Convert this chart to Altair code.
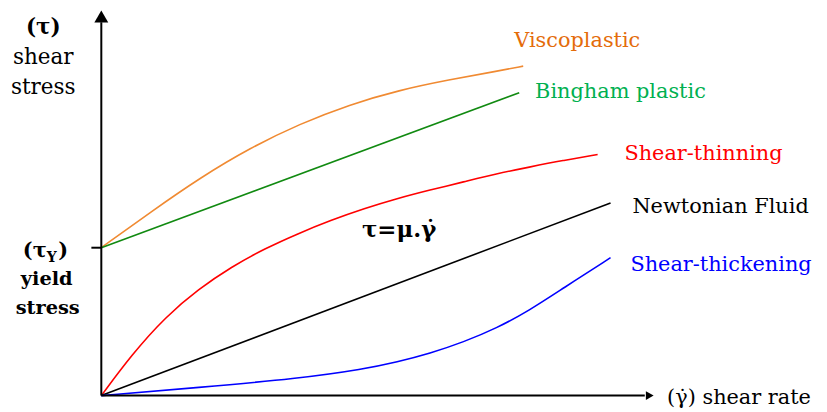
import altair as alt
import pandas as pd

# ---- data (shear rate x, shear stress y) ----
series = ["Viscoplastic", "Bingham plastic", "Shear-thinning", "Newtonian Fluid", "Shear-thickening"]
line_colors = ["#F08A32", "#118A11", "#FF0000", "#000000", "#0000FF"]
text_colors = ["#E46C0A", "#00B050", "#FF0000", "#000000", "#0000FF"]

visco_x = [0, 1, 2, 3, 4, 5, 6, 7, 8, 8.5]
visco_y = [4.0, 4.97, 5.9, 6.7, 7.35, 7.87, 8.26, 8.54, 8.78, 8.91]
bingham_x = [0, 8.42]
bingham_y = [4.0, 8.19]
thin_x = [0, 0.62, 1.3, 1.96, 2.62, 3.3, 3.96, 4.62, 5.3, 5.96, 6.62, 7.3, 7.96, 8.62, 9.3, 10.0]
thin_y = [0, 1.12, 2.14, 2.88, 3.48, 3.98, 4.38, 4.74, 5.06, 5.33, 5.56, 5.78, 6.0, 6.18, 6.36, 6.52]
newton_x = [0, 10.26]
newton_y = [0, 5.21]
thick_x = [0, 1.96, 3.96, 5.3, 5.96, 6.62, 7.3, 7.96, 8.62, 9.3, 10.26]
thick_y = [0, 0.22, 0.46, 0.72, 0.91, 1.14, 1.45, 1.82, 2.3, 2.9, 3.73]

yield_stress = 4.0
x_axis_end = 10.95
y_axis_end = 10.1

# label anchors (data units)
label_x = [8.32, 8.74, 10.54, 10.7, 10.66]
label_y = [9.42, 8.05, 6.36, 4.94, 3.36]

# ---- build tables ----
xs = [visco_x, bingham_x, thin_x, newton_x, thick_x]
ys = [visco_y, bingham_y, thin_y, newton_y, thick_y]
rows = []
for s, xx, yy in zip(series, xs, ys):
    for i, (a, b) in enumerate(zip(xx, yy)):
        rows.append({"series": s, "x": a, "y": b, "i": i})
curves = pd.DataFrame(rows)

X_DOM = [-1.88, 14.46]
Y_DOM = [-0.2953, 10.443]
FONT = "DejaVu Serif"


def X(f="x"):
    return alt.X(f"{f}:Q", scale=alt.Scale(domain=X_DOM, nice=False, zero=False), axis=None)


def Y(f="y"):
    return alt.Y(f"{f}:Q", scale=alt.Scale(domain=Y_DOM, nice=False, zero=False), axis=None)


lines = alt.Chart(curves).mark_line(strokeWidth=1.6, interpolate="basis").encode(
    x=X(), y=Y(),
    color=alt.Color("series:N", scale=alt.Scale(domain=series, range=line_colors), legend=None),
    order="i:Q",
)

axes_df = pd.DataFrame([
    {"x": 0, "x2": x_axis_end, "y": 0, "y2": 0},
    {"x": 0, "x2": 0, "y": 0, "y2": y_axis_end},
    {"x": -0.2, "x2": 0, "y": yield_stress, "y2": yield_stress},
])
axes = alt.Chart(axes_df).mark_rule(color="black", strokeWidth=2).encode(
    x=X(), x2="x2:Q", y=Y(), y2="y2:Q"
)

arrow_up = alt.Chart(pd.DataFrame({"x": [0], "y": [10.25]})).mark_point(
    shape="triangle-up", filled=True, size=196, color="black", opacity=1
).encode(x=X(), y=Y())
arrow_right = alt.Chart(pd.DataFrame({"x": [11.05], "y": [0]})).mark_point(
    shape="triangle-right", filled=True, size=81, color="black", opacity=1
).encode(x=X(), y=Y())

lab_df = pd.DataFrame({"t": series, "x": label_x, "y": label_y, "c": text_colors})
labels = alt.Chart(lab_df).mark_text(font=FONT, fontSize=21, align="left", baseline="alphabetic").encode(
    x=X(), y=Y(), text="t:N", color=alt.Color("c:N", scale=None)
)

rate_lab = alt.Chart(pd.DataFrame({"t": ["(\u03b3\u0307)  shear rate"], "x": [11.4], "y": [-0.215]})).mark_text(
    font=FONT, fontSize=21, align="left", baseline="alphabetic", color="black"
).encode(x=X(), y=Y(), text="t:N")

law = alt.Chart(pd.DataFrame({"t": ["\u03c4=\u03bc.\u03b3\u0307"], "x": [6.0], "y": [4.30]})).mark_text(
    font=FONT, fontSize=23, fontWeight="bold", align="center", baseline="alphabetic", color="black"
).encode(x=X(), y=Y(), text="t:N")

tau_top = alt.Chart(pd.DataFrame({"t": ["(\u03c4)"], "x": [-1.17], "y": [9.77]})).mark_text(
    font=FONT, fontSize=21.6, fontWeight="bold", align="center", baseline="alphabetic", color="black"
).encode(x=X(), y=Y(), text="t:N")
shear_top = alt.Chart(pd.DataFrame({"t": ["shear", "stress"], "x": [-1.17, -1.17], "y": [8.97, 8.16]})).mark_text(
    font=FONT, fontSize=21.6, align="center", baseline="alphabetic", color="black"
).encode(x=X(), y=Y(), text="t:N")

yield_a = alt.Chart(pd.DataFrame({"t": ["(\u03c4"], "x": [-1.1], "y": [3.76]})).mark_text(
    font=FONT, fontSize=21, fontWeight="bold", align="right", baseline="alphabetic", color="black"
).encode(x=X(), y=Y(), text="t:N")
yield_b = alt.Chart(pd.DataFrame({"t": ["Y"], "x": [-1.1], "y": [3.62]})).mark_text(
    font=FONT, fontSize=14, fontWeight="bold", align="left", baseline="alphabetic", color="black"
).encode(x=X(), y=Y(), text="t:N")
yield_c = alt.Chart(pd.DataFrame({"t": [")"], "x": [-0.87], "y": [3.76]})).mark_text(
    font=FONT, fontSize=21, fontWeight="bold", align="left", baseline="alphabetic", color="black"
).encode(x=X(), y=Y(), text="t:N")
yield_txt = alt.Chart(pd.DataFrame({"t": ["yield", "stress"], "x": [-1.1, -1.08], "y": [3.0, 2.2]})).mark_text(
    font=FONT, fontSize=19.5, fontWeight="bold", align="center", baseline="alphabetic", color="black"
).encode(x=X(), y=Y(), text="t:N")

chart = alt.layer(
    lines, axes, arrow_up, arrow_right, labels, rate_lab, law,
    tau_top, shear_top, yield_a, yield_b, yield_c, yield_txt
).properties(
    width=817, height=400, autosize=alt.AutoSizeParams(type="none"), padding=0,
    background="white"
).configure_view(stroke=None, strokeWidth=0)

chart.save("out.html", embed_options={"renderer": "svg", "actions": False})
